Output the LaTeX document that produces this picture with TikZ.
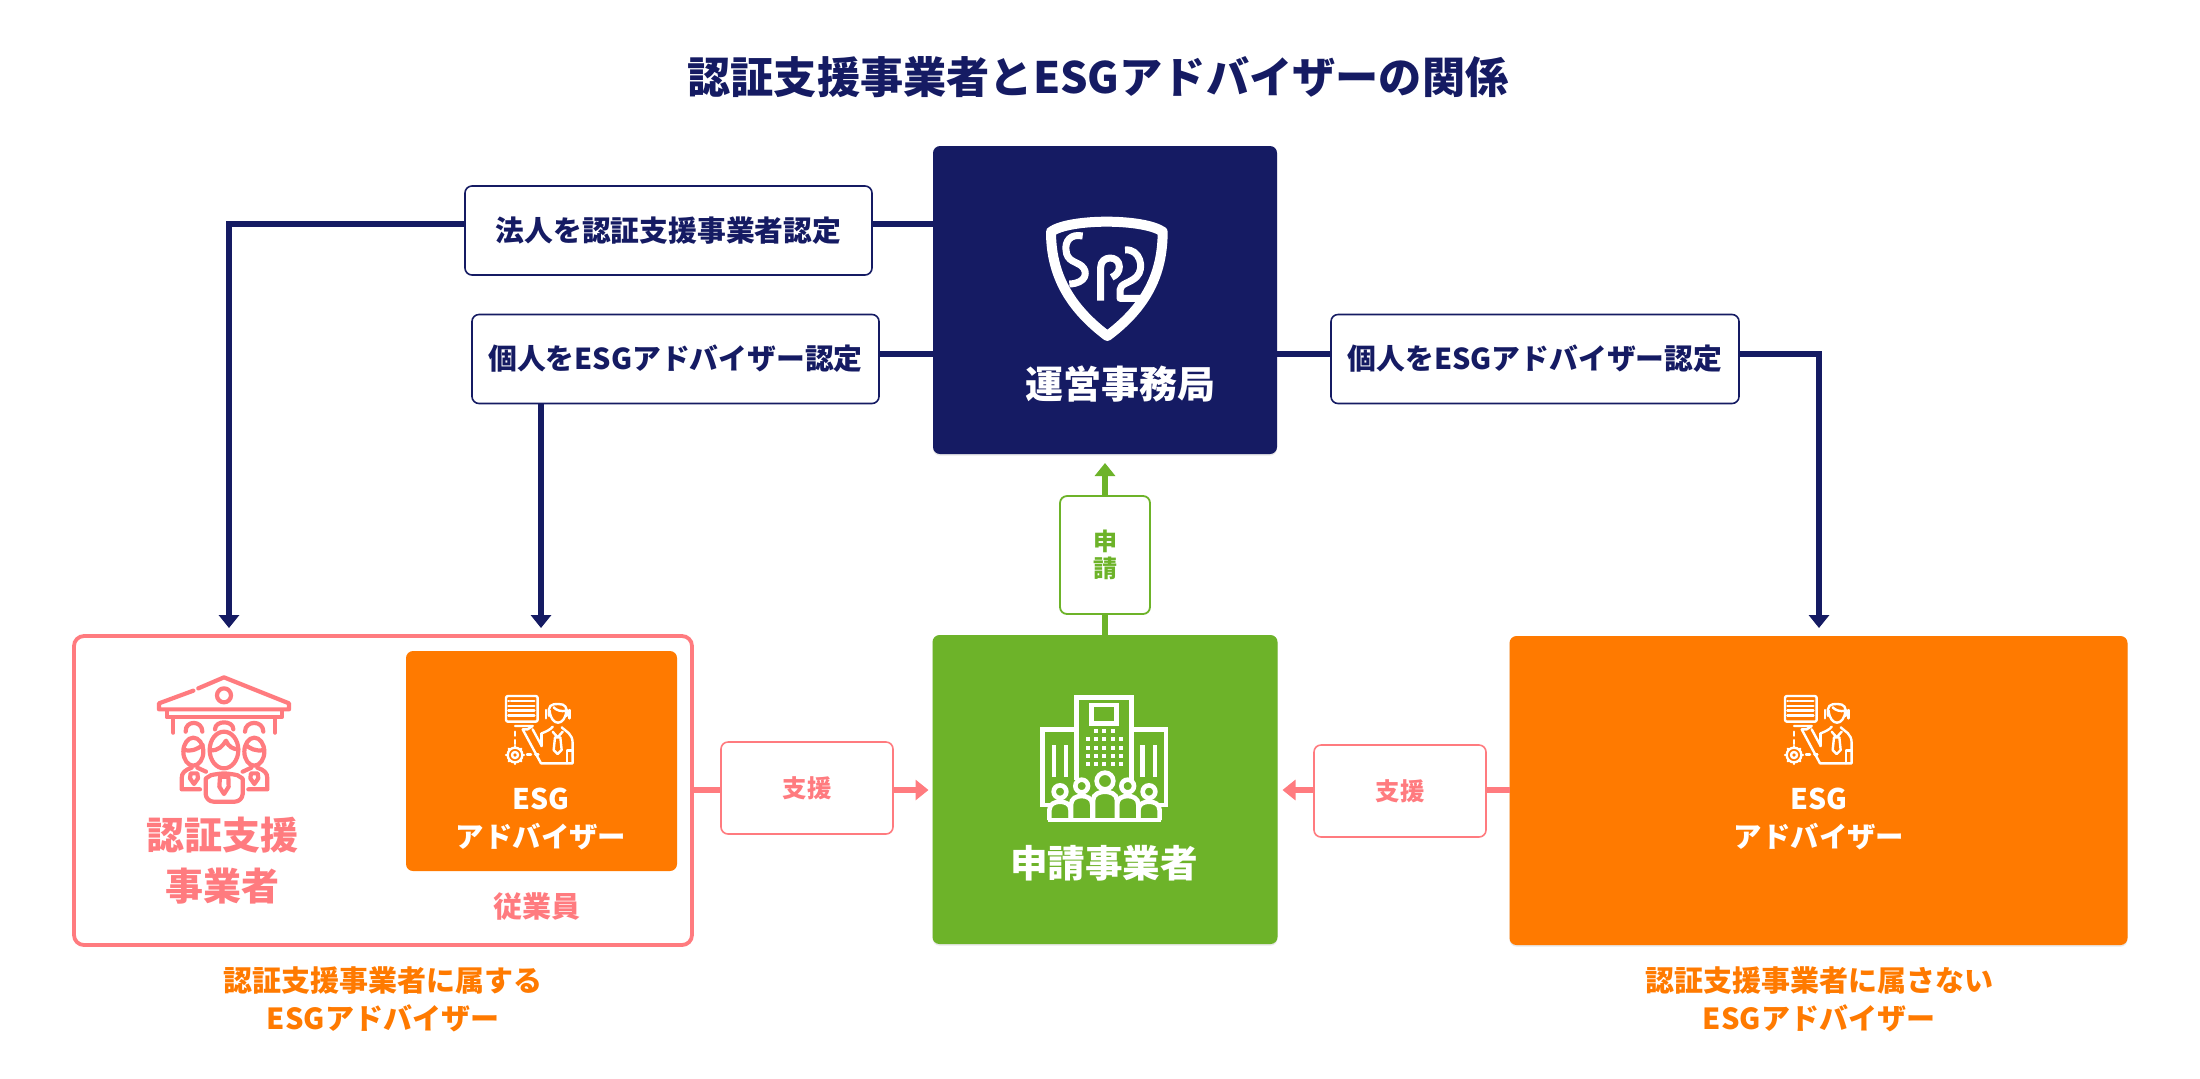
\documentclass[tikz,border=0pt]{standalone}
\usepackage{fontspec}
\setmainfont{Noto Sans CJK JP}
\usetikzlibrary{arrows.meta,shadows}
\definecolor{navy}{HTML}{151B63}
\definecolor{leaf}{HTML}{6DB329}
\definecolor{amber}{HTML}{FF7A00}
\definecolor{coral}{HTML}{FF7B7F}
\tikzset{
  x=0.5pt,y=-0.5pt,
  softshadow/.style={drop shadow={opacity=.18,shadow xshift=0pt,shadow yshift=-0.8pt}},
  panel/.style={rectangle,rounded corners=3.5pt,minimum width=#1,outer sep=0pt,inner sep=0pt},
  navylabel/.style={panel=#1,draw=navy,line width=0.8pt,fill=white,minimum height=44.5pt,text=navy,font=\fontsize{14.4}{18}\selectfont\bfseries},
  coralbox/.style={panel=86pt,draw=coral,line width=0.8pt,fill=white,minimum height=46pt,text=coral,font=\fontsize{12.2}{16}\selectfont\bfseries},
  navyline/.style={draw=navy,line width=2.6pt},
  navyarrow/.style={navyline,-{Triangle[width=10pt,length=6.5pt]},shorten >=4pt},
  leafline/.style={draw=leaf,line width=2.6pt},
  coralline/.style={draw=coral,line width=2.6pt},
  coralarrow/.style={coralline,-{Triangle[width=10pt,length=6.5pt]}},
  advisor/.pic={
    \begin{scope}[draw=white,line width=1.2pt,line cap=round,line join=round]
      \draw[rounded corners=1pt] (15,18) rectangle (110,95);
      \draw (30,33) -- (100,33) (22,33) -- (24,33) (22,48) -- (100,48) (22,62) -- (100,62) (22,77) -- (100,77);
      \draw (144,78) .. controls (140,45) and (150,42) .. (172,42) .. controls (192,42) and (200,50) .. (197,78);
      \draw (146,62) .. controls (150,110) and (192,110) .. (196,62) .. controls (180,66) and (165,60) .. (158,52);
      \draw (135,60) -- (135,85) (205,60) -- (205,85);
      \draw (42,108) -- (95,108) -- (80,118) -- (65,118) (65,118) -- (120,220) -- (215,220) -- (215,160) .. controls (215,130) and (195,125) .. (182,112);
      \draw (95,118) -- (122,168) (122,130) .. controls (135,125) and (150,118) .. (155,110);
      \draw (122,130) -- (122,168);
      \draw (155,125) -- (170,142) -- (185,125) (162,142) -- (178,142) -- (182,180) -- (170,192) -- (158,180) -- cycle;
      \draw (198,220) -- (198,182) -- (215,182);
      \draw (42,195) circle [radius=22] (42,195) circle [radius=9];
      \foreach \a in {0,45,...,315} \draw (42,195) ++(\a:22) -- ++(\a:5);
      \draw[dash pattern=on 2pt off 2.2pt] (42,125) -- (42,165) (78,193) -- (112,193);
    \end{scope}
  }
}
\begin{document}
\begin{tikzpicture}
\useasboundingbox (0,0) rectangle (2200,1078);
\fill[white] (0,0) rectangle (2200,1078);

\coordinate (toplevel) at (229,224);
\coordinate (midlevel) at (541,354);
\coordinate (rightdrop) at (1819,354);
\coordinate (suplevel) at (900,790);

\node[inner sep=0pt,text=navy,font=\fontsize{21.6}{26}\selectfont\bfseries] (title) at (1098,77) {認証支援事業者とESGアドバイザーの関係};

\node[panel=172pt,minimum height=154pt,fill=navy,softshadow] (office) at (1105,300) {};
\node[panel=172.5pt,minimum height=154.5pt,fill=leaf,softshadow] (applicant) at (1105,789.5) {};
\node[panel=309pt,minimum height=154.5pt,fill=amber,softshadow] (freeadv) at (1818.5,790.5) {};
\node[panel=309pt,minimum height=154.5pt,draw=coral,line width=1.9pt,fill=white,rounded corners=5pt] (firm) at (383,790.5) {};
\node[panel=135.5pt,minimum height=110pt,fill=amber] (inneradv) at (541.5,761) {};

\node[navylabel=203.5pt] (lab1) at (668.5,230.5) {法人を認証支援事業者認定};
\node[navylabel=203.5pt] (lab2) at (675.5,359) {個人をESGアドバイザー認定};
\node[navylabel=204pt] (lab3) at (1535,359) {個人をESGアドバイザー認定};
\node[panel=45pt,minimum height=59pt,draw=leaf,line width=0.9pt,fill=white,text=leaf,align=center,font=\fontsize{12}{13.5}\selectfont\bfseries] (apply) at (1105,555) {申\\請};
\node[coralbox] (sup1) at (807,788) {支援};
\node[coralbox] (sup2) at (1400,791) {支援};

% connectors
\draw[navyline] (lab1.east |- toplevel) -- (office.west |- toplevel);
\draw[navyarrow] (lab1.west |- toplevel) -- (toplevel) -- (toplevel |- firm.north);
\draw[navyline] (lab2.east |- midlevel) -- (office.west |- midlevel);
\draw[navyarrow] (lab2.south -| midlevel) -- (midlevel |- firm.north);
\draw[navyline] (office.east |- midlevel) -- (lab3.west |- midlevel);
\draw[navyarrow] (lab3.east |- rightdrop) -- (rightdrop) -- (rightdrop |- firm.north);
\draw[leafline] (applicant.north) -- (apply.south);
\draw[leafline,-{Triangle[width=10pt,length=6.5pt]},shorten >=4.5pt] (apply.north) -- (office.south);
\draw[coralline] (firm.east |- suplevel) -- (sup1.west |- suplevel);
\draw[coralarrow,shorten >=2pt] (sup1.east |- suplevel) -- (applicant.west |- suplevel);
\draw[coralline] (freeadv.west |- suplevel) -- (sup2.east |- suplevel);
\draw[coralarrow,shorten >=2.5pt] (sup2.west |- suplevel) -- (applicant.east |- suplevel);

% texts
\node[inner sep=0pt,text=white,font=\fontsize{19}{24}\selectfont\bfseries] (officetext) at (1120,384) {運営事務局};
\node[inner sep=0pt,text=white,font=\fontsize{18.8}{24}\selectfont\bfseries] (applicanttext) at (1104,863) {申請事業者};
\node[inner sep=0pt,text=coral,align=center,font=\fontsize{19}{25.5}\selectfont\bfseries] (firmtext) at (222,861) {認証支援\\事業者};
\node[inner sep=0pt,text=white,align=center,font=\fontsize{14.2}{19}\selectfont\bfseries] (innertext) at (541,819) {ESG\\アドバイザー};
\node[inner sep=0pt,text=white,align=center,font=\fontsize{14.2}{19}\selectfont\bfseries] (freetext) at (1819,819) {ESG\\アドバイザー};
\node[inner sep=0pt,text=coral,font=\fontsize{14.5}{18}\selectfont\bfseries] (staff) at (537,907) {従業員};
\node[inner sep=0pt,text=amber,align=center,font=\fontsize{14.5}{19}\selectfont\bfseries] (cap1) at (383,999) {認証支援事業者に属する\\ESGアドバイザー};
\node[inner sep=0pt,text=amber,align=center,font=\fontsize{14.5}{19}\selectfont\bfseries] (cap2) at (1819,999) {認証支援事業者に属さない\\ESGアドバイザー};

% shield logo
\begin{scope}[shift={(1030,190)},scale=1/3,line join=round,draw=white]
  \draw[line width=5pt] (63,125) .. controls (120,85) and (340,85) .. (398,125) .. controls (398,250) and (350,350) .. (232,438) .. controls (115,350) and (63,250) .. cycle;
  \begin{scope}[line width=3.5pt]
    \draw (158,138) .. controls (120,130) and (105,155) .. (108,180) .. controls (110,215) and (140,215) .. (155,228) .. controls (175,245) and (170,280) .. (118,282);
    \draw (212,332) -- (212,232) .. controls (212,195) and (268,195) .. (268,230) .. controls (268,245) and (260,255) .. (245,262);
    \draw (285,180) .. controls (330,175) and (345,235) .. (320,260) .. controls (300,280) and (270,280) .. (270,300) -- (270,325) -- (335,325);
  \end{scope}
\end{scope}

% applicant building icon
\begin{scope}[shift={(1030,690)},scale=1/3,draw=white,line width=2.3pt,line join=miter]
  \draw (60,345) -- (38,345) -- (38,118) -- (140,118) (305,118) -- (408,118) -- (408,345) -- (385,345);
  \draw (140,270) -- (140,22) -- (305,22) -- (305,270);
  \draw (185,45) rectangle (260,100);
  \foreach \px in {198,223,248} \fill[white] (\px-6,116) rectangle (\px+6,128);
  \foreach \py in {148,173,198,223} \foreach \px in {173,198,223,248,273} \fill[white] (\px-6,\py-6) rectangle (\px+6,\py+6);
  \draw (72,165) -- (72,260) (108,165) -- (108,260) (338,165) -- (338,260) (375,165) -- (375,260);
  \foreach \cx/\cy/\r/\hw/\top in {90/305/19/32/335,357/305/19/32/335,155/288/19/32/318,293/288/19/32/318,225/273/25/36/305} {
    \draw[fill=leaf] (\cx-\hw,390) -- (\cx-\hw,\top+26) .. controls (\cx-\hw,\top+6) and (\cx-14,\top) .. (\cx,\top) .. controls (\cx+14,\top) and (\cx+\hw,\top+6) .. (\cx+\hw,\top+26) -- (\cx+\hw,390);
    \draw[fill=leaf] (\cx,\cy) circle [radius=\r];
  }
  \draw (55,390) -- (392,390);
\end{scope}

% firm icon
\begin{scope}[shift={(140,670)},scale=1/3,draw=coral,line width=2.1pt,line cap=round,line join=round]
  \draw (160,62) -- (57,100) -- (57,118) -- (447,118) -- (447,100) -- (252,22) -- (175,55);
  \draw (80,125) -- (80,142) -- (425,142) -- (425,125);
  \draw (100,142) -- (100,188) (405,142) -- (405,188);
  \draw (252,76) circle [radius=21];
  \draw (137,185) .. controls (135,150) and (187,150) .. (187,185);
  \draw (225,178) .. controls (225,150) and (280,150) .. (280,178);
  \draw (315,185) .. controls (315,150) and (370,150) .. (370,185);
  \draw (160,245) ellipse [x radius=30,y radius=42];
  \draw (343,245) ellipse [x radius=30,y radius=42];
  \draw[fill=white] (252,240) ellipse [x radius=43,y radius=55];
  \draw (132,240) .. controls (160,245) and (175,235) .. (188,225);
  \draw (372,240) .. controls (345,245) and (330,235) .. (318,225);
  \draw (210,240) .. controls (235,245) and (250,225) .. (258,212) .. controls (265,230) and (280,238) .. (295,238);
  \draw[fill=white,rounded corners=4pt] (197,395) -- (197,350) .. controls (197,325) and (215,315) .. (235,310) -- (270,310) .. controls (290,315) and (308,325) .. (308,350) -- (308,395) -- cycle;
  \draw (240,320) -- (265,320) -- (266,350) -- (252,372) -- (238,350) -- cycle;
  \draw (180,358) -- (125,358) -- (125,325) .. controls (125,308) and (135,300) .. (155,293) (198,305) -- (172,293);
  \draw (152,310) -- (172,310) -- (174,325) -- (162,342) -- (150,325) -- cycle;
  \draw (325,358) -- (382,358) -- (382,325) .. controls (382,308) and (372,300) .. (352,293) (308,305) -- (334,293);
  \draw (333,310) -- (353,310) -- (355,325) -- (343,342) -- (331,325) -- cycle;
\end{scope}

% advisor icons
\pic[scale=1/3] (iconA) at (501,690) {advisor};
\pic[scale=1/3] (iconB) at (1780,690) {advisor};
\end{tikzpicture}
\end{document}
